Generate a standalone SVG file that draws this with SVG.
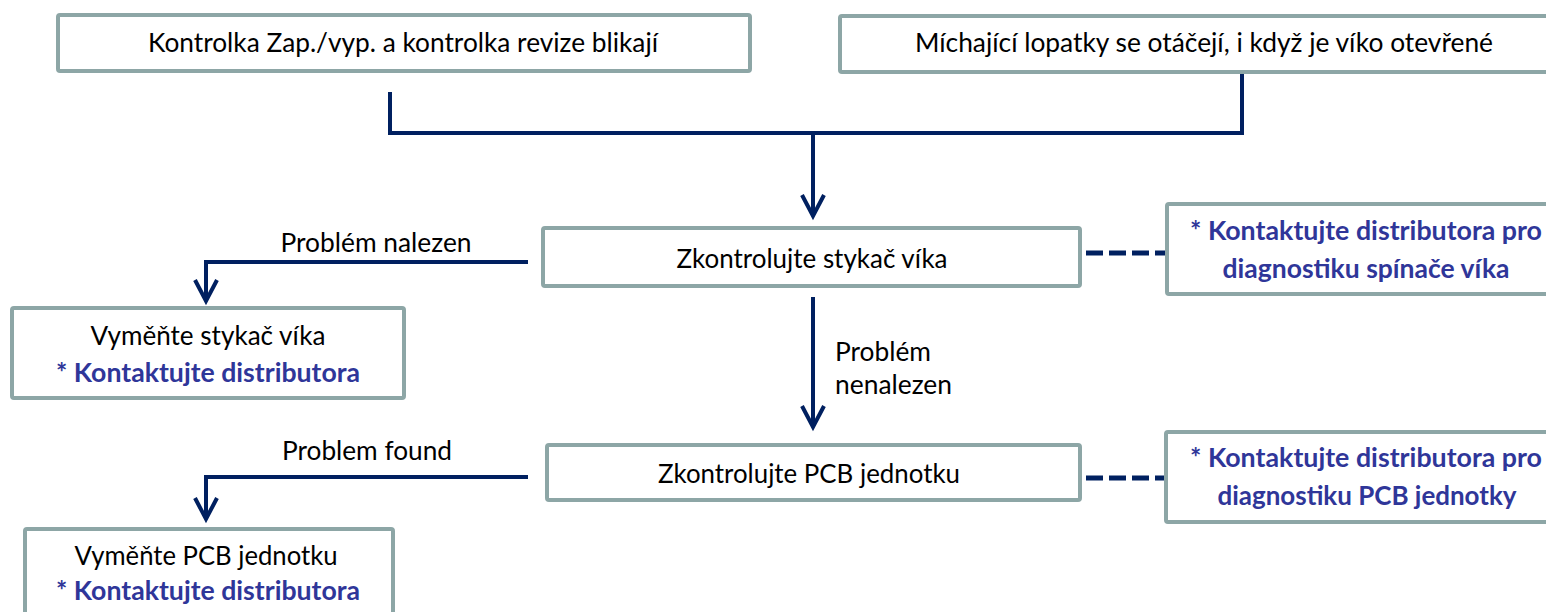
<svg xmlns="http://www.w3.org/2000/svg" width="1546" height="612" viewBox="0 0 1546 612">
  <style>
    .box { fill: #ffffff; stroke: #8DA6A6; stroke-width: 4; }
    .t { font-family: Lato, "Liberation Sans", sans-serif; font-size: 26.5px; fill: #000000; }
    .c { text-anchor: middle; }
    .b { font-weight: bold; fill: #2F3699; }
    .conn { fill: none; stroke: #002060; stroke-width: 4; }
    .dash { fill: none; stroke: #002060; stroke-width: 5; stroke-dasharray: 17 6; }
  </style>
  <defs>
    <marker id="arr" markerUnits="userSpaceOnUse" markerWidth="30" markerHeight="30" refX="0" refY="0" orient="auto" overflow="visible" viewBox="-25 -15 30 30">
      <path d="M-21,-11 L0,0 L-21,11" fill="none" stroke="#002060" stroke-width="4"/>
    </marker>
  </defs>
  <rect width="1546" height="612" fill="#ffffff"/>

  <g id="connectors">
    <path class="conn" d="M390,92 V133 H1242 V72"/>
    <path class="conn" d="M813,133 V216" marker-end="url(#arr)"/>
    <path class="conn" d="M813,297 V427" marker-end="url(#arr)"/>
    <path class="conn" d="M528,262 H206 V301" marker-end="url(#arr)"/>
    <path class="conn" d="M528,477 H206 V519" marker-end="url(#arr)"/>
    <path class="dash" d="M1086,253 H1165"/>
    <path class="dash" d="M1086,478 H1165"/>
  </g>

  <g id="lbl-found1">
    <text class="t c" x="376" y="252" textLength="191" lengthAdjust="spacingAndGlyphs">Problém nalezen</text>
  </g>
  <g id="lbl-notfound">
    <text class="t" x="835" y="361" textLength="96" lengthAdjust="spacingAndGlyphs">Problém</text>
    <text class="t" x="835" y="394" textLength="117" lengthAdjust="spacingAndGlyphs">nenalezen</text>
  </g>
  <g id="lbl-found2">
    <text class="t c" x="367" y="460" textLength="170" lengthAdjust="spacingAndGlyphs">Problem found</text>
  </g>

  <g id="n1">
    <rect class="box" x="58" y="15" width="692" height="56" rx="2"/>
    <text class="t c" x="403" y="52" textLength="510" lengthAdjust="spacingAndGlyphs">Kontrolka Zap./vyp. a kontrolka revize blikají</text>
  </g>
  <g id="n2">
    <rect class="box" x="840" y="16" width="720" height="56" rx="2"/>
    <text class="t c" x="1204" y="52" textLength="578" lengthAdjust="spacingAndGlyphs">Míchající lopatky se otáčejí, i když je víko otevřené</text>
  </g>
  <g id="n3">
    <rect class="box" x="543" y="228" width="537" height="58" rx="2"/>
    <text class="t c" x="812" y="268" textLength="271" lengthAdjust="spacingAndGlyphs">Zkontrolujte stykač víka</text>
  </g>
  <g id="n4">
    <rect class="box" x="1167" y="204" width="400" height="90" rx="2"/>
    <text class="t c b" x="1366" y="240" textLength="352" lengthAdjust="spacingAndGlyphs">* Kontaktujte distributora pro</text>
    <text class="t c b" x="1366" y="278" textLength="287" lengthAdjust="spacingAndGlyphs">diagnostiku spínače víka</text>
  </g>
  <g id="n5">
    <rect class="box" x="12" y="308" width="392" height="90" rx="2"/>
    <text class="t c" x="208" y="345" textLength="235" lengthAdjust="spacingAndGlyphs">Vyměňte stykač víka</text>
    <text class="t c b" x="208" y="382" textLength="304" lengthAdjust="spacingAndGlyphs">* Kontaktujte distributora</text>
  </g>
  <g id="n6">
    <rect class="box" x="547" y="445" width="533" height="55" rx="2"/>
    <text class="t c" x="809" y="483" textLength="302" lengthAdjust="spacingAndGlyphs">Zkontrolujte PCB jednotku</text>
  </g>
  <g id="n7">
    <rect class="box" x="1166" y="432" width="400" height="90" rx="2"/>
    <text class="t c b" x="1366" y="467" textLength="352" lengthAdjust="spacingAndGlyphs">* Kontaktujte distributora pro</text>
    <text class="t c b" x="1367" y="505" textLength="299" lengthAdjust="spacingAndGlyphs">diagnostiku PCB jednotky</text>
  </g>
  <g id="n8">
    <rect class="box" x="25" y="529" width="368" height="100" rx="2"/>
    <text class="t c" x="206" y="565" textLength="263" lengthAdjust="spacingAndGlyphs">Vyměňte PCB jednotku</text>
    <text class="t c b" x="208" y="600" textLength="304" lengthAdjust="spacingAndGlyphs">* Kontaktujte distributora</text>
  </g>
</svg>
